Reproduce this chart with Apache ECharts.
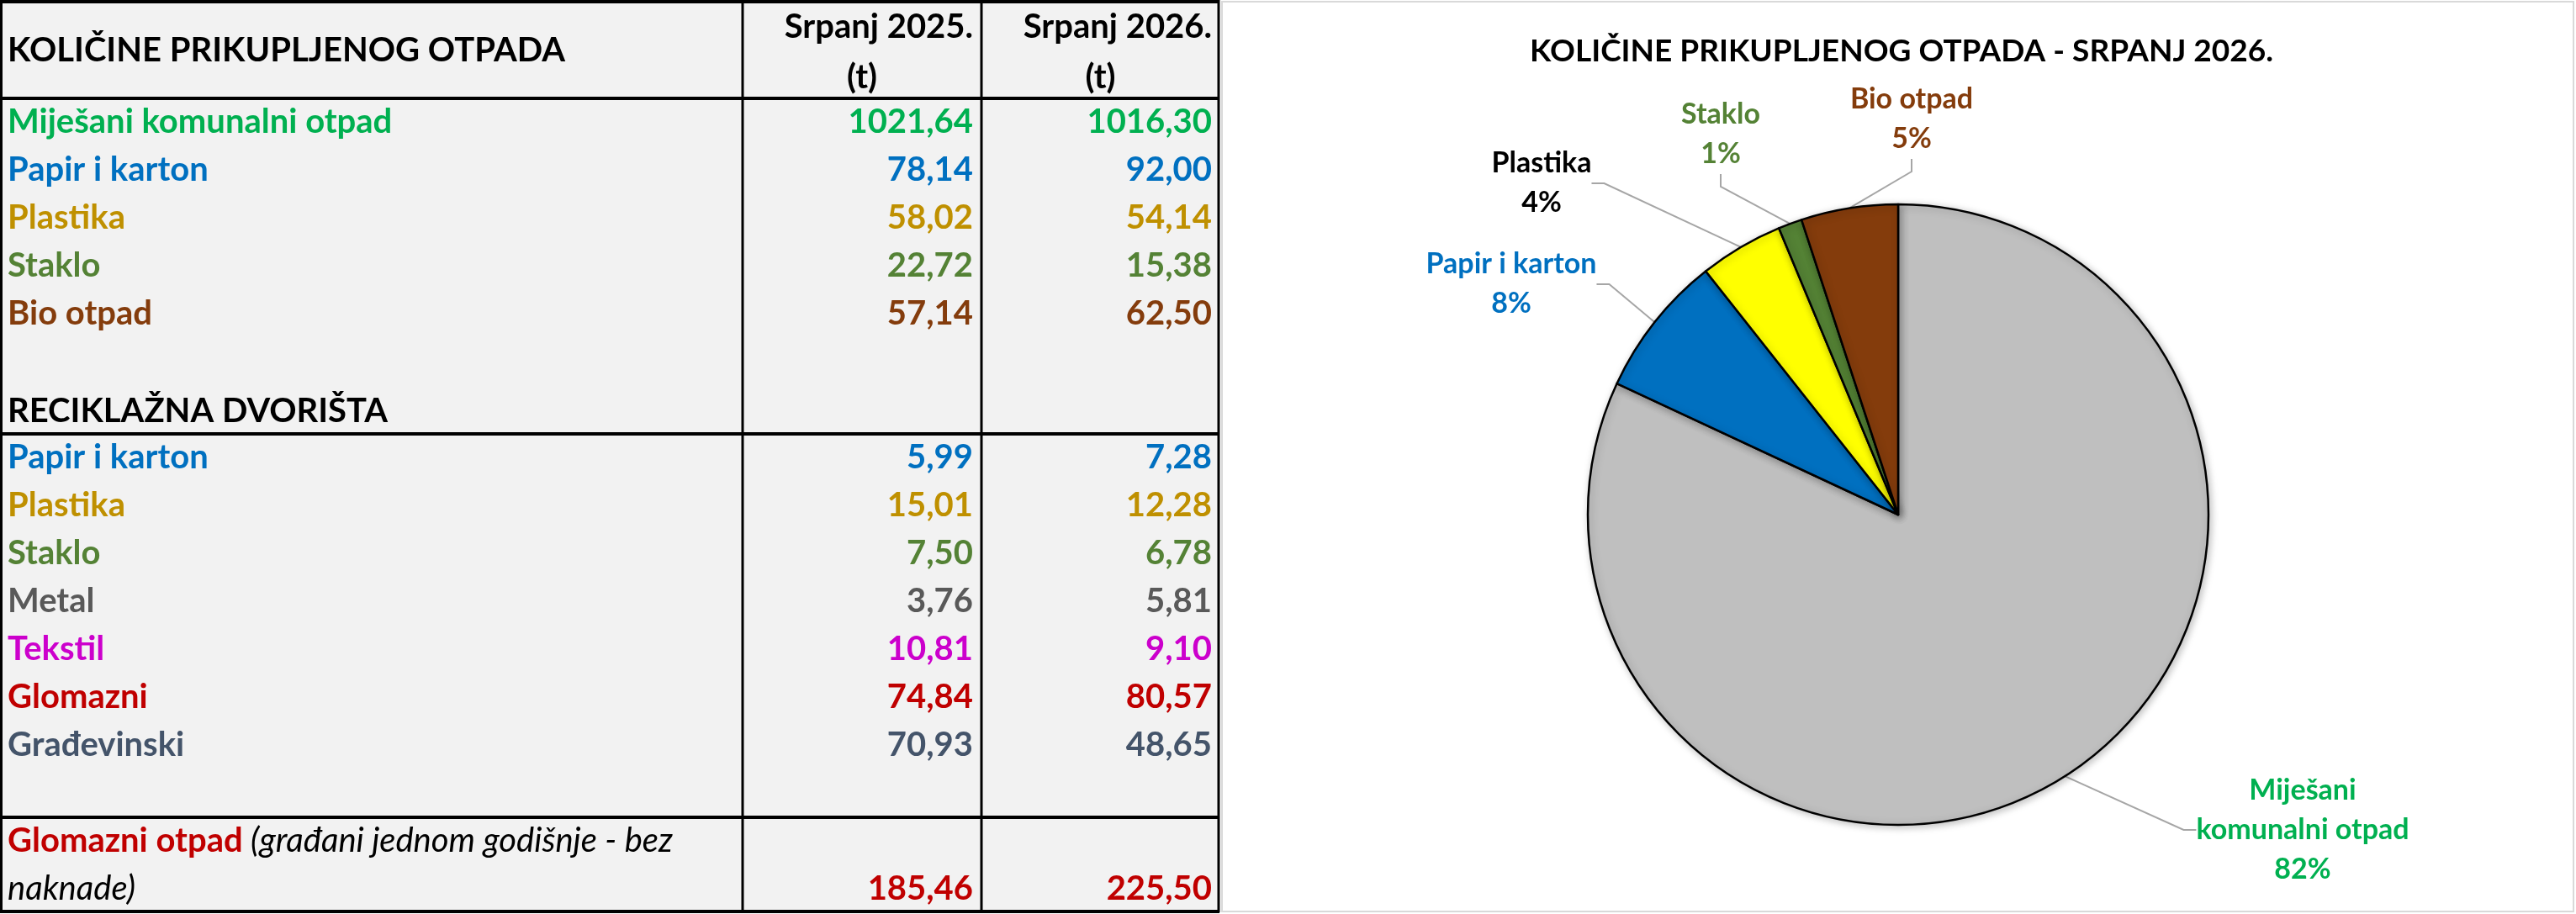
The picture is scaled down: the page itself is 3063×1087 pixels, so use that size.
<!DOCTYPE html>
<html>
<head>
<meta charset="utf-8">
<title>Količine prikupljenog otpada</title>
<script src="https://cdn.jsdelivr.net/npm/echarts@6/dist/echarts.min.js"></script>
<style>
    html, body { margin: 0; padding: 0; background: #fff; }
    #main { width: 3063px; height: 1087px; }
</style>
</head>
<body>
<div id="main"></div>
<script>
// podaci - gornja tablica
var mainCategories = ['Miješani komunalni otpad', 'Papir i karton', 'Plastika', 'Staklo', 'Bio otpad'];
var main2025 = [1021.64, 78.14, 58.02, 22.72, 57.14];
var main2026 = [1016.30, 92.00, 54.14, 15.38, 62.50];

// reciklažna dvorišta
var yardCategories = ['Papir i karton', 'Plastika', 'Staklo', 'Metal', 'Tekstil', 'Glomazni', 'Građevinski'];
var yard2025 = [5.99, 15.01, 7.50, 3.76, 10.81, 74.84, 70.93];
var yard2026 = [7.28, 12.28, 6.78, 5.81, 9.10, 80.57, 48.65];

// glomazni otpad (građani jednom godišnje)
var bulky2025 = 185.46;
var bulky2026 = 225.50;

var columnHeaders = ['Srpanj 2025.', 'Srpanj 2026.'];
// postoci kako pišu na grafikonu
var piePercentLabels = [82, 8, 4, 1, 5];

// boje
var mainColors = ['#00B050', '#0070C0', '#BF9000', '#548235', '#843C0C'];
var yardColors = ['#0070C0', '#BF9000', '#548235', '#595959', '#CC00CC', '#C00000', '#44546A'];
var pieColors = ['#BFBFBF', '#0070C0', '#FFFF00', '#548235', '#843C0C'];
var pieLabelColors = ['#00B050', '#0070C0', '#000000', '#548235', '#843C0C'];

var FONT = 'Lato, "Open Sans", sans-serif';
var FS = 40;

function fmt(v) {
    return v.toFixed(2).replace('.', ',');
}

var myChart = echarts.init(document.getElementById('main'));

// tablica crtana preko graphic komponente
var graphics = [];
var colX = [0, 883, 1167, 1450];
var headerH = 117;
var rowH = 57;
var tableBottom = 1085;

// pozadina tablice
graphics.push({
    type: 'rect',
    shape: { x: 0, y: 0, width: colX[3], height: tableBottom },
    style: { fill: '#F2F2F2' },
    z: 1
});

function text(x, y, str, color, align, extra) {
    var s = {
        x: x, y: y, text: str, fill: color,
        font: 'bold ' + FS + 'px ' + FONT,
        textAlign: align || 'left',
        textVerticalAlign: 'middle'
    };
    if (extra) { for (var k in extra) s[k] = extra[k]; }
    graphics.push({ type: 'text', style: s, z: 5 });
}

function rowY(i) {
    return headerH + rowH * i + rowH / 2;
}

// zaglavlje
text(9, 60, 'KOLIČINE PRIKUPLJENOG OTPADA', '#000');
text(colX[2] - 10, 32, columnHeaders[0], '#000', 'right');
text(colX[3] - 9, 32, columnHeaders[1], '#000', 'right');
text((colX[1] + colX[2]) / 2, 92, '(t)', '#000', 'center');
text((colX[2] + colX[3]) / 2, 92, '(t)', '#000', 'center');

// glavne vrste otpada
mainCategories.forEach(function (name, i) {
    var y = rowY(i);
    text(9, y, name, mainColors[i]);
    text(colX[2] - 10, y, fmt(main2025[i]), mainColors[i], 'right');
    text(colX[3] - 9, y, fmt(main2026[i]), mainColors[i], 'right');
});

text(9, rowY(6) + 2, 'RECIKLAŽNA DVORIŠTA', '#000');

// reciklažna dvorišta
yardCategories.forEach(function (name, i) {
    var y = rowY(7 + i);
    text(9, y, name, yardColors[i]);
    text(colX[2] - 10, y, fmt(yard2025[i]), yardColors[i], 'right');
    text(colX[3] - 9, y, fmt(yard2026[i]), yardColors[i], 'right');
});

// glomazni otpad - bogati tekst
graphics.push({
    type: 'text',
    z: 5,
    style: {
        x: 9, y: rowY(15),
        text: '{r|Glomazni otpad}{i|\u00a0(građani jednom godišnje - bez}',
        textVerticalAlign: 'middle',
        rich: {
            r: { font: 'bold ' + FS + 'px ' + FONT, fill: '#C00000' },
            i: { font: 'italic ' + FS + 'px ' + FONT, fill: '#000' }
        }
    }
});
text(9, rowY(16), 'naknade)', '#000', 'left', { font: 'italic ' + FS + 'px ' + FONT });
text(colX[2] - 10, rowY(16), fmt(bulky2025), '#C00000', 'right');
text(colX[3] - 9, rowY(16), fmt(bulky2026), '#C00000', 'right');

// linije tablice
function hline(y, w) {
    graphics.push({ type: 'line', shape: { x1: 0, y1: y, x2: colX[3], y2: y }, style: { stroke: '#000', lineWidth: w }, z: 6 });
}
function vline(x, w) {
    graphics.push({ type: 'line', shape: { x1: x, y1: 0, x2: x, y2: tableBottom }, style: { stroke: '#000', lineWidth: w }, z: 6 });
}
hline(2, 4);
hline(headerH, 4);
hline(headerH + rowH * 7, 4);
hline(headerH + rowH * 15, 4);
hline(tableBottom - 1, 4);
vline(1.5, 3);
vline(colX[1], 3);
vline(colX[2], 3);
vline(colX[3] - 1, 3);

// okvir grafikona
graphics.push({
    type: 'rect',
    shape: { x: 1453, y: 2, width: 1607, height: 1082 },
    style: { fill: 'none', stroke: '#D9D9D9', lineWidth: 2 },
    z: 0
});

var pieCenter = [2257, 612];
var pieRadius = 369;
// pomak oznaka od središta (px)
var labelOffsets = [[481, 375], [-460, -274], [-424, -394], [-211, -452], [16, -470]];

var pieData = mainCategories.map(function (name, i) {
    return {
        name: name,
        value: main2026[i],
        itemStyle: { color: pieColors[i] },
        label: { color: pieLabelColors[i] }
    };
});

var option = {
    animation: false,
    title: {
        text: 'KOLIČINE PRIKUPLJENOG OTPADA - SRPANJ 2026.',
        left: 2256,
        top: 38,
        textAlign: 'center',
        textStyle: { fontFamily: FONT, fontWeight: 'bold', fontSize: 37, color: '#000' }
    },
    graphic: graphics,
    series: [{
        type: 'pie',
        center: pieCenter,
        radius: pieRadius,
        startAngle: 90,
        clockwise: true,
        data: pieData,
        itemStyle: {
            borderColor: '#000',
            borderWidth: 2.5,
            shadowBlur: 10,
            shadowColor: 'rgba(0,0,0,0.25)',
            shadowOffsetX: 2,
            shadowOffsetY: 2
        },
        label: {
            show: true,
            position: 'outside',
            fontFamily: FONT,
            fontWeight: 'bold',
            fontSize: 34,
            lineHeight: 47,
            align: 'center',
            formatter: function (p) {
                var name = p.name;
                if (p.dataIndex === 0) name = 'Miješani\nkomunalni otpad';
                return name + '\n' + piePercentLabels[p.dataIndex] + '%';
            }
        },
        labelLine: {
            show: true,
            length: 20,
            length2: 15,
            lineStyle: { color: '#A6A6A6', width: 2 }
        },
        labelLayout: function (p) {
            var o = labelOffsets[p.dataIndex];
            return {
                x: pieCenter[0] + o[0],
                y: pieCenter[1] + o[1],
                align: 'center',
                verticalAlign: 'middle'
            };
        }
    }]
};

myChart.setOption(option);
</script>
</body>
</html>
